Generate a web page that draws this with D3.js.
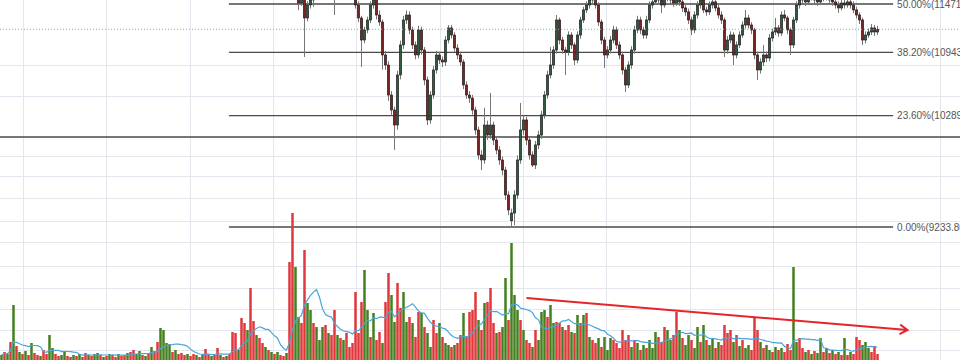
<!DOCTYPE html>
<html><head><meta charset="utf-8">
<script src="https://cdn.jsdelivr.net/npm/d3@7"></script>
<style>html,body{margin:0;padding:0;background:#fff;overflow:hidden}</style>
</head><body><svg id="c" width="960" height="360"></svg>
<script>
// ---- volume (one bar per session, index 0..292) ----
const volume = [
5,8,6,18,55,14,8,6,9,5, 17,7,5,4,10,6,25,12,6,4, 5,9,4,3,5,4,6,3,7,5, 4,6,7,5,3,4,6,5,3,6,
4,5,7,8,10,6,9,5,4,7, 13,9,18,32,30,17,16,8,10,6, 7,5,6,4,6,5,3,5,11,6, 4,5,12,5,3,4,6,28,27,10,
42,37,30,72,39,25,22,17,13,10, 8,6,8,5,4,7,98,147,93,43, 37,110,57,50,37,33,20,33,35,27, 25,50,25,22,20,27,13,17,68,27,
58,90,50,23,47,20,28,17,58,87, 65,38,77,52,68,38,43,37,23,48, 47,33,27,13,40,27,37,23,17,15, 13,15,17,25,47,23,48,50,68,40,
30,57,58,72,37,27,28,33,82,40, 117,65,50,40,30,20,17,13,30,20, 48,50,43,55,37,38,37,33,30,35, 28,27,45,37,45,47,23,20,17,22,
13,23,10,22,20,17,12,30,20,25, 13,20,17,10,15,12,20,12,28,23, 18,33,30,20,25,48,30,22,15,25, 20,12,33,18,35,20,15,22,12,18,
15,35,27,30,18,25,14,20,12,15, 10,43,30,18,12,15,10,8,13,10, 12,8,16,10,93,18,22,12,8,10, 6,9,7,22,8,12,7,10,6,8,
5,22,5,8,6,23,20,15,18,12, 8,14,6];
// g = up session, r = down session
const volDir = ("grgrgrgrgr"+"grrgrrggrr"+"ggrrgrgrrg"+"rggrgrgrrg"+"rrgrrggrgr"+"grrggggrgr"+"rrgrrgrgrr"+"grrgrgrrrg"+
"rrgrrgrrgr"+"grgrrgrrgg"+"rrggrgggrg"+"rrgrgrrrrr"+"rggrgrrgrr"+"ggrrggrgrr"+"grggrrgrgg"+"rgrrgrrrrg"+
"rgrrrgrggr"+"gggrgrrgrg"+"ggrggrrgrr"+"grgrgrgrrg"+"rgggrrrrrr"+"grgrgrgggr"+"rrggrrgrgg"+"rggrgrggrg"+
"rrrrgrgrgg"+"rrrgrggrgr"+"grrrggrrgr"+"grggrgrgrg"+"rgrgrrrggg"+"rrr").split("");

// ---- price candles (visible from session index 98) ----
const candleStart = 98;
const open = [
11600,11572,11482,11538,11316,11460,11516,11550,11629,11685, 11742,11800,11742,11685,11572,11629,11685,11742,11685,11629,
11572,11460,11316,11076,11185,11294,11460,11516,11349,11272, 10916,10810,10499,10347,10197,10706,11023,11294,11349,11185,
11023,10916,11185,10969,10654,10247,10499,10758,10916,10863, 10842,11076,11207,11130,10990,10916,10842,10602,10499,10468,
10347,10148,9904,9856,10197,10098,10197,10049,9952,9856, 9760,9526,9290,9360,9526,9856,10148,10247,10049,9904,
9808,10001,10098,10297,10499,10706,10810,10969,11294,11076, 10969,10948,11130,11023,10863,11130,11294,11405,11460,11516,
11572,11460,11272,11076,10916,10969,11076,11185,11023,10916, 10758,10602,10810,10969,11185,11294,11185,11130,11294,11460,
11494,11550,11516,11460,11538,11572,11516,11482,11538,11494, 11427,11383,11294,11185,11349,11460,11516,11405,11383,11460,
11494,11427,11349,11294,10969,11076,11130,10916,11023,11130, 11239,11316,11239,11185,10916,10758,10842,10916,10884,11098,
11163,11207,11152,11349,11316,11185,11023,11294,11460,11516, 11550,11494,11572,11550,11516,11494,11538,11572,11550,11516,
11494,11460,11427,11482,11460,11494,11460,11405,11349,11294, 11076,11130,11163,11207,11163];
const high = [
11650,11600,11600,11580,11500,11560,11600,11670,11730,11790, 11850,11840,11780,11700,11670,11730,11790,11780,11720,11660,
11600,11500,11340,11220,11330,11500,11560,11540,11400,11300, 10960,10850,10540,10380,10750,11070,11340,11400,11390,11220,
11060,11230,11220,11000,10690,10540,10800,10960,10950,10900, 11120,11239,11240,11160,11030,10950,10870,10640,10540,10500,
10380,10180,9950,10370,10240,10520,10230,10080,9990,9890, 9790,9560,9400,9570,9900,10418,10290,10280,10080,9940,
10040,10140,10340,10540,10750,11000,11010,11349,11320,11110, 11000,11170,11160,11050,11170,11330,11440,11500,11560,11620,
11600,11490,11300,11110,11010,11120,11230,11220,11060,10950, 10790,10850,11010,11230,11340,11330,11220,11340,11500,11540,
11600,11590,11550,11580,11620,11610,11550,11580,11570,11530, 11460,11420,11330,11390,11500,11560,11540,11440,11500,11540,
11530,11460,11390,11320,11120,11170,11160,11060,11170,11280, 11405,11350,11270,11210,10950,10880,11023,10950,11140,11200,
11316,11240,11390,11405,11340,11210,11330,11500,11560,11600, 11580,11620,11610,11580,11550,11580,11620,11610,11580,11550,
11530,11500,11520,11520,11530,11530,11500,11440,11380,11320, 11170,11200,11250,11240,11230];
const low = [
11530,11405,11450,10895,11280,11420,11438,11520,11590,11650, 11700,11700,11640,11349,11540,11600,11650,11640,11590,11530,
11420,11270,10790,11040,11150,11260,11420,11300,11230,10760, 10760,10440,10290,9952,10150,10660,10980,11250,11140,10980,
10870,10880,10920,10600,10197,10210,10460,10720,10820,10790, 10800,11040,11090,10950,10870,10800,10560,10460,10420,10300,
10100,9860,9760,9820,10050,10060,10000,9910,9810,9710, 9480,9340,9233.8,9250,9490,9820,10100,10000,9860,9789,
9770,9960,10060,10260,10460,10670,10770,10930,11030,10930, 10706,10910,10980,10810,10830,11090,11260,11370,11420,11480,
11420,11230,11030,10780,10880,10930,11040,10980,10870,10710, 10530,10570,10770,10930,11150,11140,11090,11090,11260,11420,
11460,11480,11372,11430,11500,11480,11440,11450,11450,11383, 11340,11250,11130,11150,11310,11420,11370,11340,11350,11420,
11390,11310,11250,10895,10930,11040,10810,10880,10990,11100, 11200,11200,11140,10870,10654,10720,10800,10840,10850,11060,
11130,11110,11120,11280,11140,10916,10990,11260,11420,11480, 11450,11460,11510,11480,11450,11460,11500,11510,11480,11450,
11420,11372,11400,11420,11430,11420,11370,11310,11250,11023, 11040,11100,11130,11120,11130];
const close = [
11572,11482,11538,11316,11460,11516,11550,11629,11685,11742, 11800,11742,11685,11572,11629,11685,11742,11685,11629,11572,
11460,11316,11076,11185,11294,11460,11516,11349,11272,10916, 10810,10499,10347,10197,10706,11023,11294,11349,11185,11023,
10916,11185,10969,10654,10247,10499,10758,10916,10863,10842, 11076,11207,11130,10990,10916,10842,10602,10499,10468,10347,
10148,9904,9856,10197,10098,10197,10049,9952,9856,9760, 9526,9388,9360,9526,9856,10148,10247,10049,9904,9808,
10001,10098,10297,10499,10706,10810,10969,11294,11076,10969, 10948,11130,11023,10863,11130,11294,11405,11460,11516,11572,
11460,11272,11076,10916,10969,11076,11185,11023,10916,10758, 10602,10810,10969,11185,11294,11185,11130,11294,11460,11494,
11550,11516,11460,11538,11572,11516,11482,11538,11494,11427, 11383,11294,11185,11349,11460,11516,11405,11383,11460,11494,
11427,11349,11294,10969,11076,11130,10916,11023,11130,11239, 11316,11239,11185,10916,10758,10842,10916,10884,11098,11163,
11207,11152,11349,11316,11185,11023,11294,11460,11516,11550, 11494,11572,11550,11516,11494,11538,11572,11550,11516,11494,
11460,11427,11482,11460,11494,11460,11405,11349,11294,11076, 11130,11163,11207,11163,11192];

// ---- drawing tools on the chart ----
const fibLow = 9233.8, fibHigh = 13708.2;
const fibLevels = [0, 0.236, 0.382, 0.5, 0.618, 1];
const fibSpan = [76.3, 297.7];        // session index range of the Fibonacci tool
const hLinePrice = 10078;             // horizontal line tool
const trendLine = [{i: 175, v: 62}, {i: 302, v: 30}]; // volume trend arrow
const maPeriod = 10;
const gridVol = [295, 264, 204, 184, 162, 139, 118, 94, 72, 51, 30, 10];
const gridCols = 12;

const W = 960, H = 360;
const svg = d3.select("#c");
const x = d3.scaleLinear().domain([0, 320]).range([0, 960]);
const cx = i => x(i + 0.5);
const fibPrice = l => fibLow + l * (fibHigh - fibLow);
const yP = d3.scaleLog().domain([fibLow, fibPrice(0.5)]).range([227, 4]);
const yV = d3.scaleLinear().domain([0, 150]).range([360, 210]);

svg.append("rect").attr("width", W).attr("height", H).attr("fill", "#fff");

// grid
const gx = d3.scaleLinear().domain([0, gridCols]).range([23, 23 + 83.33 * gridCols]);
const grid = svg.append("g").attr("stroke", "#e3e7ed").attr("stroke-width", 1);
d3.range(gridCols).forEach(k => grid.append("line").attr("x1", Math.round(gx(k)) + 0.5).attr("x2", Math.round(gx(k)) + 0.5).attr("y1", 0).attr("y2", H));
gridVol.forEach(v => grid.append("line").attr("x1", 0).attr("x2", W).attr("y1", Math.round(yV(v)) + 0.5).attr("y2", Math.round(yV(v)) + 0.5));

// horizontal line tool
svg.append("line").attr("x1", 0).attr("x2", W).attr("y1", yP(hLinePrice)).attr("y2", yP(hLinePrice))
  .attr("stroke", "#4a4a4a").attr("stroke-width", 1.5);

// fibonacci
const fg = svg.append("g");
fibLevels.forEach(l => {
  const p = fibPrice(l), y = yP(p);
  fg.append("line").attr("x1", x(fibSpan[0])).attr("x2", x(fibSpan[1])).attr("y1", y).attr("y2", y)
    .attr("stroke", "#4a4a4a").attr("stroke-width", 1.3);
  fg.append("text").attr("x", x(fibSpan[1]) + 4).attr("y", y + 3.6)
    .attr("font-family", "Liberation Sans, Arial, sans-serif").attr("font-size", 10).attr("fill", "#555")
    .text((l * 100).toFixed(2) + "%(" + p.toFixed(2) + ")");
});

// volume bars
svg.append("g").selectAll("rect").data(volume).join("rect")
  .attr("x", (d, i) => cx(i) - 1.25).attr("width", 2.5)
  .attr("y", d => yV(d)).attr("height", d => yV(0) - yV(d))
  .attr("fill", (d, i) => volDir[i] === "r" ? "#e0383c" : "#44801f");

// volume MA
const ma = volume.map((d, i) => d3.mean(volume.slice(Math.max(0, i - maPeriod + 1), i + 1)));
svg.append("path").attr("d", d3.line().x((d, i) => cx(i)).y(d => yV(d))(ma))
  .attr("fill", "none").attr("stroke", "#4aa5da").attr("stroke-width", 1.2);

// candles
const cg = svg.append("g");
close.forEach((c, k) => {
  const i = candleStart + k, o = open[k], X = cx(i);
  cg.append("line").attr("x1", X).attr("x2", X).attr("y1", yP(high[k])).attr("y2", yP(low[k]))
    .attr("stroke", "#777").attr("stroke-width", 1);
  const top = yP(Math.max(o, c)), bot = yP(Math.min(o, c));
  cg.append("rect").attr("x", X - 1.2).attr("width", 2.4).attr("y", top).attr("height", Math.max(1, bot - top))
    .attr("fill", c >= o ? "#2f5a40" : "#7a2424").attr("stroke", "#1c1c1c").attr("stroke-width", 0.6);
});

// last price dotted line
const lastY = yP(close[close.length - 1]);
svg.append("line").attr("x1", 0).attr("x2", W).attr("y1", lastY).attr("y2", lastY)
  .attr("stroke", "#79b8b8").attr("stroke-width", 1).attr("stroke-dasharray", "1,2");

// trend arrow
const ax1 = cx(trendLine[0].i), ay1 = yV(trendLine[0].v), ax2 = cx(trendLine[1].i), ay2 = yV(trendLine[1].v);
const ang = Math.atan2(ay2 - ay1, ax2 - ax1), al = 9;
svg.append("path")
  .attr("d", `M${ax1},${ay1}L${ax2},${ay2}M${ax2 - al * Math.cos(ang - 0.55)},${ay2 - al * Math.sin(ang - 0.55)}L${ax2},${ay2}L${ax2 - al * Math.cos(ang + 0.55)},${ay2 - al * Math.sin(ang + 0.55)}`)
  .attr("fill", "none").attr("stroke", "#e5252a").attr("stroke-width", 2);
</script>
</body></html>
